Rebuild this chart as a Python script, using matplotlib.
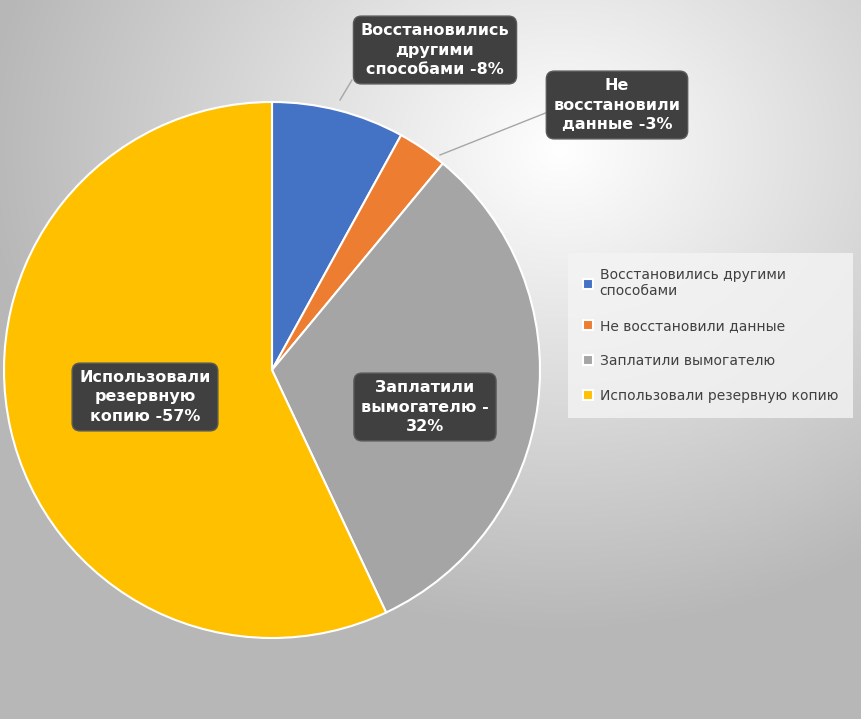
import matplotlib
matplotlib.use("Agg")
import matplotlib.pyplot as plt
import numpy as np

categories = ["Восстановились другими\nспособами", "Не восстановили данные",
              "Заплатили вымогателю", "Использовали резервную копию"]
values = [8, 3, 32, 57]
colors = ["#4472c4", "#ed7d31", "#a5a5a5", "#ffc000"]
box_labels = ["Восстановились\nдругими\nспособами -8%", "Не\nвосстановили\nданные -3%",
              "Заплатили\nвымогателю -\n32%", "Использовали\nрезервную\nкопию -57%"]

W, H = 861, 719
fig = plt.figure(figsize=(W/100, H/100), dpi=100)

# background gradient
bg = fig.add_axes([0, 0, 1, 1])
yy, xx = np.mgrid[0:H, 0:W]
d = np.sqrt(((xx - 560) / W) ** 2 + ((yy - 150) / H) ** 2)
g = np.clip(1.0 - 0.42 * d, 0.72, 1.0)
bg.imshow(np.dstack([g, g, g]), extent=[0, W, H, 0], aspect="auto")
bg.set_xlim(0, W); bg.set_ylim(H, 0); bg.axis("off")

cx, cy, r = 272, 370, 268
ax = fig.add_axes([(cx - r) / W, (H - cy - r) / H, 2 * r / W, 2 * r / H])
wedges, _ = ax.pie(values, colors=colors, startangle=90, counterclock=False,
                   wedgeprops=dict(edgecolor="white", linewidth=1.5), radius=1)
ax.set_xlim(-1, 1); ax.set_ylim(-1, 1); ax.set_aspect("equal")

top = fig.add_axes([0, 0, 1, 1], facecolor="none")
top.set_xlim(0, W); top.set_ylim(H, 0); top.axis("off")

# leader lines (pixels)
top.plot([340, 352], [100, 80], color="#a6a6a6", lw=1)
top.plot([440, 548], [155, 112], color="#a6a6a6", lw=1)

pos = [(435, 50), (617, 105), (425, 407), (145, 397)]
for (x, y), t in zip(pos, box_labels):
    top.text(x, y, t, ha="center", va="center", color="white", fontsize=11.5,
             fontweight="bold", linespacing=1.35,
             bbox=dict(boxstyle="round,pad=0.45,rounding_size=0.5",
                       fc="#404040", ec="#595959"))

leg = fig.legend(wedges, categories, loc="upper left",
                 bbox_to_anchor=(565 / W, 1 - 250 / H), frameon=True,
                 fontsize=10, handlelength=0.7, handleheight=0.7,
                 labelspacing=1.5, borderpad=0.8, handletextpad=0.5,
                 labelcolor="#404040")
leg.get_frame().set_facecolor("#f4f4f4")
leg.get_frame().set_edgecolor("none")
leg.get_frame().set_boxstyle("square")

fig.savefig("out.png", dpi=100)
